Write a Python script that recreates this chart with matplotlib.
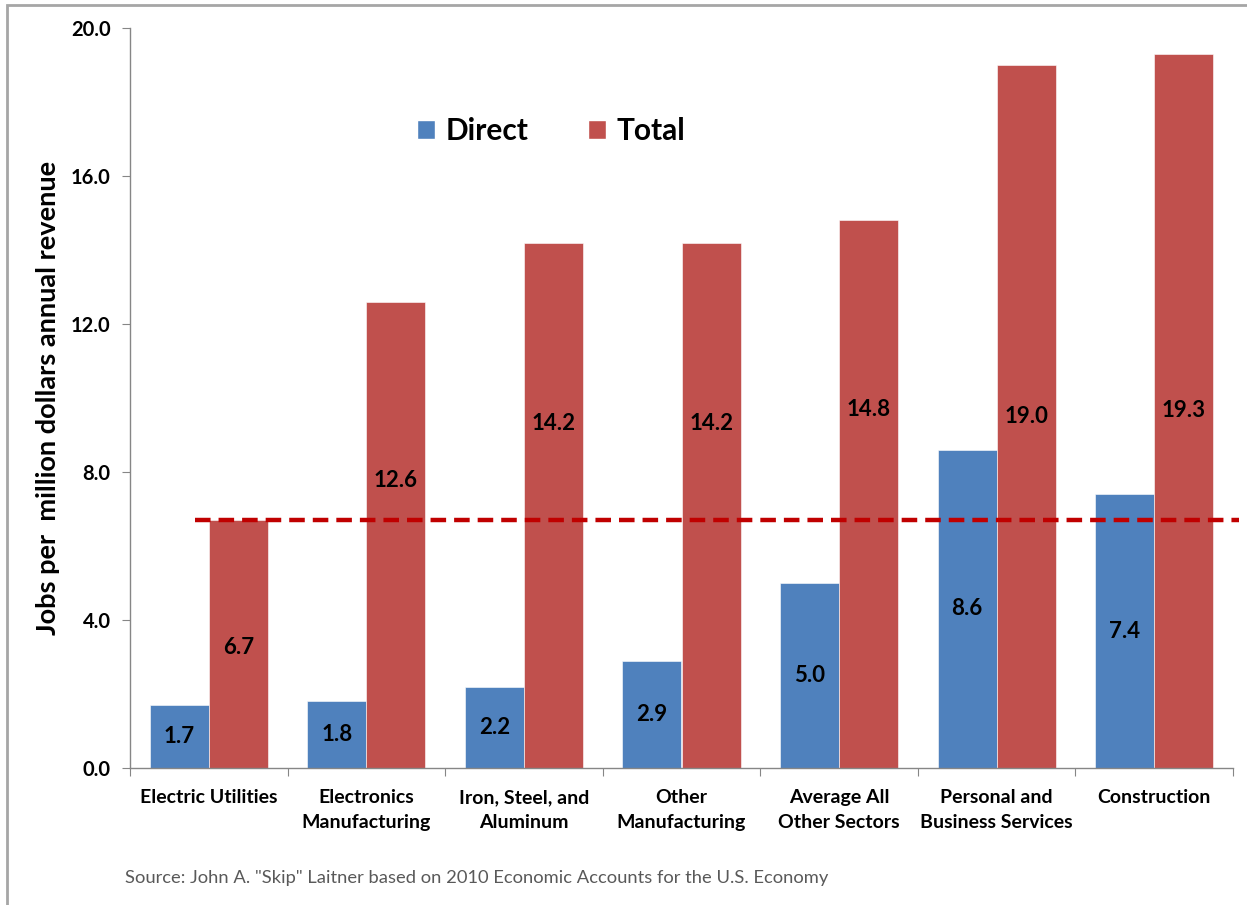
import matplotlib
matplotlib.use("Agg")
import matplotlib.pyplot as plt
from matplotlib.patches import Rectangle, Patch

plt.rcParams['font.family'] = ['Lato', 'DejaVu Sans']
plt.rcParams['font.weight'] = 'bold'

categories = ["Electric Utilities", "Electronics\nManufacturing", "Iron, Steel, and\nAluminum",
              "Other\nManufacturing", "Average All\nOther Sectors", "Personal and\nBusiness Services",
              "Construction"]
direct = [1.7, 1.8, 2.2, 2.9, 5.0, 8.6, 7.4]
total = [6.7, 12.6, 14.2, 14.2, 14.8, 19.0, 19.3]
reference_level = 6.7
# vertical anchor for the Total value labels (as placed in the original)
total_label_y = [3.27, 7.76, 9.3, 9.3, 9.68, 9.51, 9.65]
yticks = [0, 4, 8, 12, 16, 20]

blue = "#4F81BD"
red = "#C0504D"
grey = "#868686"

W, H = 1247, 905
fig = plt.figure(figsize=(W / 100, H / 100), dpi=100)
ax = fig.add_axes([130 / W, (H - 768) / H, (1233 - 130) / W, (768 - 28) / H])

n = len(categories)
bw = 0.375
xs = list(range(n))
ax.bar([x - bw / 2 for x in xs], direct, width=bw, color=blue, edgecolor="white", linewidth=0.4, label="Direct", zorder=2)
ax.bar([x + bw / 2 for x in xs], total, width=bw, color=red, edgecolor="white", linewidth=0.4, label="Total", zorder=2)

for x, v in zip(xs, direct):
    ax.text(x - bw / 2, v / 2, f"{v:.1f}", ha="center", va="center", fontsize=16, fontweight="bold", zorder=4)
for x, v, ly in zip(xs, total, total_label_y):
    ax.text(x + bw / 2, ly, f"{v:.1f}", ha="center", va="center", fontsize=16, fontweight="bold", zorder=4)

ax.plot([-0.085, 6.54], [reference_level, reference_level], color="#C00000", lw=3.2,
        dashes=(3.5, 1.8), clip_on=False, zorder=3)

ax.set_xlim(-0.5, n - 0.5)
ax.set_ylim(0, 20)
ax.set_yticks(yticks)
ax.set_yticklabels([f"{t:.1f}" for t in yticks], fontsize=14.5, fontweight="bold")
ax.set_xticks([x - 0.5 for x in range(n + 1)], minor=False)
ax.set_xticklabels([""] * (n + 1))
ax.set_xticks(xs, minor=True)
ax.set_xticklabels(categories, minor=True, fontsize=14, fontweight="bold", linespacing=1.55)
ax.tick_params(axis="x", which="minor", length=0, pad=15)
ax.tick_params(axis="x", which="major", length=6, color=grey, direction="out")
ax.tick_params(axis="y", length=6, color=grey, direction="out", pad=8)
for s in ["top", "right"]:
    ax.spines[s].set_visible(False)
for s in ["left", "bottom"]:
    ax.spines[s].set_color(grey)
    ax.spines[s].set_linewidth(1.0)

ax.set_ylabel("Jobs per  million dollars annual revenue", fontsize=19.5, fontweight="bold", labelpad=8)

handles = [Patch(facecolor=blue, edgecolor="white"), Patch(facecolor=red, edgecolor="white")]
leg = ax.legend(handles, ["Direct", "Total"], loc="upper left",
                bbox_to_anchor=((390 - 130) / (1233 - 130), (768 - 90) / 740),
                ncol=2, frameon=False, prop={"weight": "bold", "size": 21.5},
                handlelength=0.6, handleheight=0.6, handletextpad=0.35, columnspacing=2.0)

fig.text(125 / W, 1 - 878 / H, 'Source: John A. "Skip" Laitner based on 2010 Economic Accounts for the U.S. Economy',
         fontsize=13.2, color="#595959", ha="left", va="center", fontweight="normal")

fig.add_artist(Rectangle((7 / W, -0.01), 1.02, 1 - 5 / H + 0.01, transform=fig.transFigure,
                         fill=False, edgecolor="#A6A6A6", lw=2))

fig.savefig("out.png", dpi=100)
